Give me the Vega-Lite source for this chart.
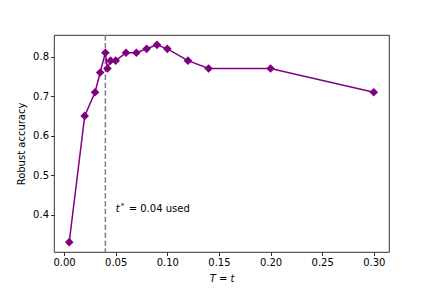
{
  "$schema": "https://vega.github.io/schema/vega-lite/v6.json",
  "autosize": "none",
  "width": 335,
  "height": 217,
  "padding": {"left": 54, "top": 35, "right": 43, "bottom": 36},
  "background": "white",
  "config": {
    "font": "DejaVu Sans",
    "view": {"stroke": "black", "strokeWidth": 0.8},
    "axis": {
      "domain": false,
      "grid": false,
      "tickColor": "black",
      "tickSize": 3.5,
      "tickWidth": 0.8,
      "labelFont": "DejaVu Sans",
      "labelFontSize": 10,
      "labelColor": "black",
      "labelPadding": 2,
      "titleFont": "DejaVu Sans",
      "titleFontSize": 10,
      "titleFontWeight": "normal",
      "titleColor": "black"
    }
  },
  "datasets": {
    "pts": [
      {"t": 0.005, "acc": 0.33},
      {"t": 0.02, "acc": 0.65},
      {"t": 0.03, "acc": 0.71},
      {"t": 0.035, "acc": 0.76},
      {"t": 0.04, "acc": 0.81},
      {"t": 0.042, "acc": 0.77},
      {"t": 0.045, "acc": 0.79},
      {"t": 0.05, "acc": 0.79},
      {"t": 0.06, "acc": 0.81},
      {"t": 0.07, "acc": 0.81},
      {"t": 0.08, "acc": 0.82},
      {"t": 0.09, "acc": 0.83},
      {"t": 0.1, "acc": 0.82},
      {"t": 0.12, "acc": 0.79},
      {"t": 0.14, "acc": 0.77},
      {"t": 0.2, "acc": 0.77},
      {"t": 0.3, "acc": 0.71}
    ],
    "vline": [{"t": 0.04}],
    "note": [{"t": 0.05, "acc": 0.415, "sym": "t", "rest": "= 0.04 used"}]
  },
  "layer": [
    {
      "data": {"name": "vline"},
      "mark": {"type": "rule", "color": "gray", "strokeWidth": 1.5, "strokeDash": [5.5, 2.4]},
      "encoding": {
        "x": {"field": "t", "type": "quantitative", "scale": {"domain": [-0.00975, 0.31475], "nice": false, "zero": false}}
      }
    },
    {
      "data": {"name": "pts"},
      "mark": {"type": "line", "color": "purple", "strokeWidth": 1.5, "point": {"shape": "diamond", "size": 75, "filled": true, "color": "purple", "opacity": 1}},
      "encoding": {
        "x": {
          "field": "t", "type": "quantitative",
          "scale": {"domain": [-0.00975, 0.31475], "nice": false, "zero": false},
          "axis": {"values": [0, 0.05, 0.1, 0.15, 0.2, 0.25, 0.3], "format": ".2f", "title": "T = t", "titleFontStyle": "italic", "titlePadding": 6}
        },
        "y": {
          "field": "acc", "type": "quantitative",
          "scale": {"domain": [0.305, 0.855], "nice": false, "zero": false},
          "axis": {"values": [0.4, 0.5, 0.6, 0.7, 0.8], "format": ".1f", "title": "Robust accuracy", "titlePadding": 6}
        }
      }
    },
    {
      "data": {"name": "note"},
      "mark": {"type": "text", "align": "left", "baseline": "middle", "fontSize": 10, "fontStyle": "italic", "color": "black", "font": "DejaVu Sans"},
      "encoding": {
        "x": {"field": "t", "type": "quantitative"},
        "y": {"field": "acc", "type": "quantitative"},
        "text": {"field": "sym"}
      }
    },
    {
      "data": {"name": "note"},
      "mark": {"type": "text", "align": "left", "baseline": "middle", "fontSize": 7, "dx": 5, "dy": -3, "color": "black", "font": "DejaVu Sans"},
      "encoding": {
        "x": {"field": "t", "type": "quantitative"},
        "y": {"field": "acc", "type": "quantitative"},
        "text": {"value": "*"}
      }
    },
    {
      "data": {"name": "note"},
      "mark": {"type": "text", "align": "left", "baseline": "middle", "fontSize": 10, "dx": 13, "color": "black", "font": "DejaVu Sans"},
      "encoding": {
        "x": {"field": "t", "type": "quantitative"},
        "y": {"field": "acc", "type": "quantitative"},
        "text": {"field": "rest"}
      }
    }
  ]
}
